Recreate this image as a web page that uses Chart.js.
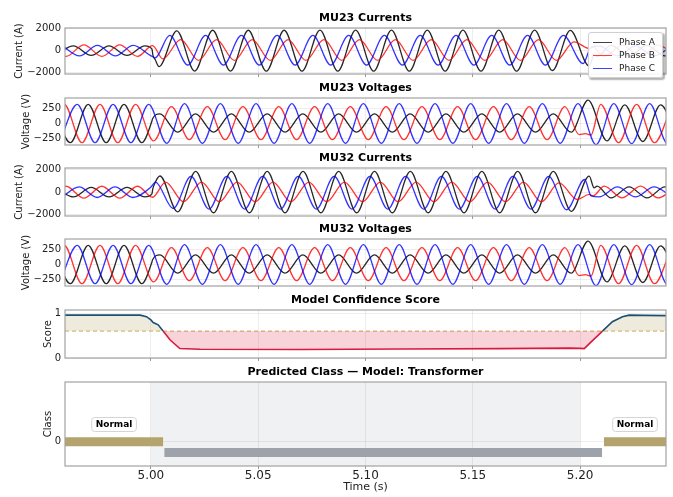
<!DOCTYPE html>
<html>
<head>
<meta charset="utf-8">
<script src="https://cdn.jsdelivr.net/npm/chart.js@4.4.1/dist/chart.umd.min.js"></script>
<style>
  body { margin: 0; background: #fff; width: 673px; height: 497px; position: relative; overflow: hidden; font-family: "DejaVu Sans", sans-serif; }
  canvas { position: absolute; left: 0; display: block; }
  #legend { position: absolute; left: 588px; top: 32px; width: 75px; height: 46px; box-sizing: border-box;
    border: 1px solid #d0d0d0; border-radius: 3px; background: rgba(255,255,255,0.9);
    box-shadow: 1.5px 1.5px 1.5px rgba(0,0,0,0.3); font-size: 9px; color: #222; padding-top: 3px; }
  #legend .row { height: 13px; line-height: 13px; white-space: nowrap; }
  #legend .sw { display: inline-block; width: 19px; height: 1.5px; margin: 0 7px 0 4px; vertical-align: middle; }
</style>
</head>
<body>
<canvas id="c1" width="673" height="74" style="top:11px"></canvas>
<canvas id="c2" width="673" height="75" style="top:81px"></canvas>
<canvas id="c3" width="673" height="76" style="top:151px"></canvas>
<canvas id="c4" width="673" height="75" style="top:222px"></canvas>
<canvas id="c5" width="673" height="76" style="top:293px"></canvas>
<canvas id="c6" width="673" height="132" style="top:365px"></canvas>
<div id="legend">
  <div class="row"><span class="sw" style="background:rgba(0,0,0,0.75)"></span>Phase A</div>
  <div class="row"><span class="sw" style="background:rgba(255,0,0,0.75)"></span>Phase B</div>
  <div class="row"><span class="sw" style="background:rgba(0,0,255,0.75)"></span>Phase C</div>
</div>
<script>
// Time window and shared ticks
const T_MIN = 4.96, T_MAX = 5.24;
const xTicks = [5.00, 5.05, 5.10, 5.15, 5.20];
const currentTicks = [-2000, 0, 2000];
const voltageTicks = [-250, 0, 250];
const scoreTicks = [0, 1];
const classTicks = [0];

// Waveforms: [time (s), value] at each peak / trough
const curA23 = [[4.9555,-430],[4.9639,430],[4.9722,-430],[4.9805,430],[4.9889,-430],[4.9972,430],[5.0005,150],[5.0010,-450],[5.0020,-800],[5.0038,-1450],
  [5.0121,1800],[5.0204,-1850],[5.0288,1850],[5.0371,-1850],[5.0454,1850],[5.0538,-1860],[5.0621,1850],[5.0704,-1860],[5.0788,1860],[5.0871,-1860],[5.0954,1860],
  [5.1038,-1860],[5.1121,1860],[5.1204,-1860],[5.1288,1860],[5.1371,-1860],[5.1454,1860],[5.1538,-1860],[5.1621,1860],[5.1704,-1860],[5.1788,1860],[5.1871,-1800],[5.1954,1840],
  [5.2042,-1400],[5.2065,-400],[5.2079,-540],[5.2144,480],[5.2228,-480],[5.2312,480],[5.2395,-480],[5.2478,480]];
const curB23 = [[4.9522,520],[4.9605,-520],[4.9688,520],[4.9772,-520],[4.9855,520],[4.9938,-520],[5.0008,450],
  [5.0056,-750],[5.0139,1000],[5.0222,-880],[5.0306,1000],[5.0389,-880],[5.0472,1000],[5.0556,-880],[5.0639,1000],[5.0722,-880],[5.0806,1000],[5.0889,-880],[5.0972,1000],
  [5.1056,-880],[5.1139,1000],[5.1222,-880],[5.1306,1000],[5.1389,-880],[5.1472,1000],[5.1556,-880],[5.1639,1000],[5.1722,-880],[5.1806,1000],[5.1889,-880],[5.1972,800],
  [5.2042,200],[5.2060,330],[5.2112,-540],[5.2195,510],[5.2282,-540],[5.2363,510],[5.2449,-540]];
const curC23 = [[4.9585,470],[4.9668,-470],[4.9751,470],[4.9835,-470],[4.9918,470],[5.0001,-470],[5.0020,-650],
  [5.0088,1380],[5.0172,-1300],[5.0255,1380],[5.0338,-1300],[5.0422,1380],[5.0505,-1300],[5.0588,1380],[5.0672,-1300],[5.0755,1380],[5.0838,-1300],[5.0922,1380],
  [5.1005,-1300],[5.1088,1380],[5.1172,-1300],[5.1255,1380],[5.1338,-1300],[5.1422,1380],[5.1505,-1300],[5.1588,1380],[5.1672,-1300],[5.1755,1380],[5.1838,-1300],[5.1922,1380],[5.2014,-1170],
  [5.2051,330],[5.2088,420],[5.2174,-470],[5.2258,420],[5.2344,-470],[5.2428,420]];

const curA32 = [[4.9555,420],[4.9639,-420],[4.9722,420],[4.9805,-420],[4.9889,420],[4.9972,-420],[5.0005,-150],[5.0009,300],[5.0013,550],
  [5.0042,1440],[5.0125,-1750],[5.0209,1850],[5.0292,-1830],[5.0375,1850],[5.0459,-1830],[5.0542,1850],[5.0625,-1830],[5.0709,1850],[5.0792,-1830],[5.0875,1850],
  [5.0959,-1830],[5.1042,1850],[5.1125,-1830],[5.1209,1850],[5.1292,-1830],[5.1375,1850],[5.1459,-1830],[5.1542,1850],[5.1625,-1830],[5.1709,1850],[5.1792,-1830],[5.1875,1850],[5.1959,-1700],[5.2042,1435],
  [5.2065,385],[5.2079,540],[5.2144,-510],[5.2228,480],[5.2312,-510],[5.2395,480],[5.2478,-510]];
const curB32 = [[4.9522,-530],[4.9605,530],[4.9688,-530],[4.9772,530],[4.9855,-530],[4.9938,530],[5.0008,-450],
  [5.0069,900],[5.0152,-850],[5.0236,900],[5.0319,-850],[5.0402,900],[5.0486,-850],[5.0569,900],[5.0652,-850],[5.0736,900],[5.0819,-850],[5.0902,900],[5.0986,-850],
  [5.1069,900],[5.1152,-850],[5.1236,900],[5.1319,-850],[5.1402,900],[5.1486,-850],[5.1569,900],[5.1652,-850],[5.1736,900],[5.1819,-850],[5.1902,830],[5.1986,-650],
  [5.2042,-200],[5.2060,-330],[5.2112,540],[5.2195,-510],[5.2282,540],[5.2363,-510],[5.2449,540]];
const curC32 = [[4.9583,-470],[4.9666,470],[4.9750,-470],[4.9833,470],[4.9916,-470],[5.0001,470],[5.0021,900],
  [5.0104,-1450],[5.0187,1400],[5.0271,-1500],[5.0354,1400],[5.0437,-1500],[5.0521,1400],[5.0604,-1500],[5.0687,1400],[5.0771,-1500],[5.0854,1400],[5.0937,-1500],
  [5.1021,1400],[5.1104,-1500],[5.1187,1400],[5.1271,-1500],[5.1354,1400],[5.1437,-1500],[5.1521,1400],[5.1604,-1500],[5.1687,1400],[5.1771,-1500],[5.1854,1400],[5.1937,-1560],[5.2021,1130],
  [5.2051,-330],[5.2088,-420],[5.2174,470],[5.2258,-420],[5.2344,470],[5.2428,-420]];

// Voltages look the same at both relays
const voltA = [[4.9542,320],[4.9625,-320],[4.9708,320],[4.9792,-320],[4.9875,320],[4.9958,-320],[5.0004,30],[5.0008,80],
  [5.0042,160],[5.0125,-145],[5.0208,160],[5.0292,-145],[5.0375,160],[5.0458,-145],[5.0542,160],[5.0625,-145],[5.0708,160],[5.0792,-145],[5.0875,160],[5.0958,-145],
  [5.1042,160],[5.1125,-145],[5.1208,160],[5.1292,-145],[5.1375,160],[5.1458,-145],[5.1542,160],[5.1625,-145],[5.1708,160],[5.1792,-145],[5.1875,160],[5.1958,-145],
  [5.2037,390],[5.2125,-290],[5.2208,310],[5.2292,-300],[5.2375,310],[5.2458,-300]];
const voltB = [[4.9513,-320],[4.9596,320],[4.9679,-320],[4.9763,320],[4.9846,-320],[4.9929,320],[5.0013,-290],
  [5.0096,280],[5.0179,-270],[5.0263,280],[5.0346,-270],[5.0429,280],[5.0513,-270],[5.0596,280],[5.0679,-270],[5.0763,280],[5.0846,-270],[5.0929,280],[5.1013,-270],
  [5.1096,280],[5.1179,-270],[5.1263,280],[5.1346,-270],[5.1429,280],[5.1513,-270],[5.1596,280],[5.1679,-270],[5.1763,280],[5.1846,-270],[5.1929,280],
  [5.1995,-185],[5.2025,-170],[5.2050,-195],[5.2096,320],[5.2179,-320],[5.2263,320],[5.2346,-320],[5.2429,320]];
const voltC = [[4.9574,-320],[4.9657,320],[4.9740,-320],[4.9824,320],[4.9907,-320],[4.9990,320],
  [5.0074,-330],[5.0157,330],[5.0240,-330],[5.0324,330],[5.0407,-330],[5.0490,330],[5.0574,-330],[5.0657,330],[5.0740,-330],[5.0824,330],[5.0907,-330],[5.0990,330],
  [5.1074,-330],[5.1157,330],[5.1240,-330],[5.1324,330],[5.1407,-330],[5.1490,330],[5.1574,-330],[5.1657,330],[5.1740,-330],[5.1824,330],[5.1907,-330],[5.1990,330],
  [5.2074,-350],[5.2157,330],[5.2240,-335],[5.2324,330],[5.2407,-335],[5.2490,330]];

// Model confidence
const scoreT = [4.96, 4.9950, 4.9980, 5.0000, 5.0011, 5.0034, 5.0057, 5.0090, 5.0135, 5.0230, 5.0700, 5.1160, 5.1620, 5.1950, 5.2000, 5.2019, 5.2060, 5.2104, 5.2150, 5.2197, 5.2228, 5.2300, 5.24];
const scoreV = [0.955, 0.955, 0.92, 0.85, 0.79, 0.74, 0.60, 0.40, 0.21, 0.195, 0.19, 0.20, 0.21, 0.22, 0.215, 0.21, 0.40, 0.60, 0.81, 0.92, 0.955, 0.95, 0.945];
const threshold = 0.6;

// Predicted class spans
const classStart = [4.96, 5.0063, 5.2111];
const classEnd = [5.0057, 5.2102, 5.24];
const classLevel = [0, -0.22, 0];
const classColor = ['#b4a36c', '#9ea3ab', '#b4a36c'];
const classLabel = ['Normal', '', 'Normal'];
const labelLevel = 0.36;
const faultStart = 5.00, faultEnd = 5.20;

const FONT = '"DejaVu Sans", sans-serif';
const GRID = 'rgba(0,0,0,0.07)';
const PHASE = ['rgba(0,0,0,0.85)', 'rgba(255,0,0,0.8)', 'rgba(0,0,255,0.8)'];

const fmtNum = (v) => (v < 0 ? '\u2212' : '') + Math.abs(v);

const framePlugin = {
  id: 'frame',
  afterDraw(chart) {
    const a = chart.chartArea, ctx = chart.ctx;
    ctx.save();
    ctx.strokeStyle = '#a2a2a2';
    ctx.lineWidth = 1.2;
    ctx.strokeRect(a.left, a.top, a.right - a.left, a.bottom - a.top);
    ctx.restore();
  },
};

function phaseSets(a, b, c) {
  return [a, b, c].map((d, i) => ({
    data: d, borderColor: PHASE[i], borderWidth: 1.3, order: 3 - i,
    cubicInterpolationMode: 'monotone', pointRadius: 0,
  }));
}

function makeChart(id, o) {
  return new Chart(document.getElementById(id), {
    type: 'line',
    data: { datasets: o.datasets },
    plugins: [framePlugin].concat(o.plugins || []),
    options: {
      responsive: false, animation: false, events: [],
      layout: { padding: { left: 0, right: 7, top: 0, bottom: 0 } },
      elements: { point: { radius: 0 } },
      plugins: {
        legend: { display: false }, tooltip: { enabled: false },
        title: { display: true, fullSize: false, text: o.title, color: '#000', font: { family: FONT, size: 11, weight: 'bold' }, padding: { top: 0.8, bottom: 3 } },
      },
      scales: {
        x: {
          type: 'linear', min: T_MIN, max: T_MAX,
          afterBuildTicks: (s) => { s.ticks = xTicks.map((v) => ({ value: v })); },
          afterFit: (s) => { s.height = o.showX ? 31 : 11; },
          grid: { color: GRID, drawTicks: true, tickLength: 3, tickColor: '#999' },
          border: { display: false },
          ticks: { display: !!o.showX, padding: 0, color: '#222', font: { family: FONT, size: 12 }, callback: (v) => v.toFixed(2) },
          title: { display: !!o.showX, text: 'Time (s)', color: '#222', font: { family: FONT, size: 11 }, padding: { top: 0, bottom: 3.4 } },
        },
        y: {
          min: o.yMin, max: o.yMax,
          afterBuildTicks: (s) => { s.ticks = o.yTicks.map((v) => ({ value: v })); },
          afterFit: (s) => { s.width = 65; },
          grid: { color: GRID, drawTicks: false },
          border: { display: false },
          ticks: { padding: 4, color: '#222', font: { family: FONT, size: 10 }, callback: fmtNum },
          title: { display: true, text: o.yTitle, color: '#222', font: { family: FONT, size: 10 }, padding: { top: o.yPad, bottom: 0 } },
        },
      },
    },
  });
}

makeChart('c1', { title: 'MU23 Currents', yTitle: 'Current (A)', yPad: 13.5, yMin: -2117, yMax: 2054, yTicks: currentTicks, datasets: phaseSets(curA23, curB23, curC23) });
makeChart('c2', { title: 'MU23 Voltages', yTitle: 'Voltage (V)', yPad: 20, yMin: -358, yMax: 425, yTicks: voltageTicks, datasets: phaseSets(voltA, voltB, voltC) });
makeChart('c3', { title: 'MU32 Currents', yTitle: 'Current (A)', yPad: 13.5, yMin: -2117, yMax: 2152, yTicks: currentTicks, datasets: phaseSets(curA32, curB32, curC32) });
makeChart('c4', { title: 'MU32 Voltages', yTitle: 'Voltage (V)', yPad: 20, yMin: -358, yMax: 425, yTicks: voltageTicks, datasets: phaseSets(voltA, voltB, voltC) });

// Confidence score, coloured by side of the threshold
const BLUE_LINE = '#1b4f72', RED_LINE = '#d91a40';
makeChart('c5', {
  title: 'Model Confidence Score', yTitle: 'Score', yPad: 42.3, yMin: 0, yMax: 1.07, yTicks: scoreTicks,
  datasets: [
    { data: [[T_MIN, threshold], [T_MAX, threshold]], borderColor: '#c9a94e', borderWidth: 1, borderDash: [4, 3], order: 2 },
    {
      data: scoreT.map((t, i) => [t, scoreV[i]]), borderWidth: 1.6, order: 1, borderColor: BLUE_LINE,
      segment: { borderColor: (ctx) => ((ctx.p0.parsed.y + ctx.p1.parsed.y) / 2 < threshold ? RED_LINE : BLUE_LINE) },
      fill: { target: { value: threshold }, above: 'rgba(200,190,140,0.3)', below: 'rgba(220,40,70,0.2)' },
    },
  ],
});

// Predicted class bars
const shadePlugin = {
  id: 'shade',
  beforeDraw(chart) {
    const a = chart.chartArea, x = chart.scales.x, ctx = chart.ctx;
    ctx.save();
    ctx.fillStyle = '#f0f1f3';
    const x0 = x.getPixelForValue(faultStart), x1 = x.getPixelForValue(faultEnd);
    ctx.fillRect(x0, a.top, x1 - x0, a.bottom - a.top);
    ctx.restore();
  },
  afterDatasetsDraw(chart) {
    const x = chart.scales.x, y = chart.scales.y, ctx = chart.ctx;
    ctx.save();
    ctx.font = 'bold 9px ' + FONT;
    ctx.textAlign = 'center';
    ctx.textBaseline = 'middle';
    classLabel.forEach((txt, i) => {
      if (!txt) return;
      const cx = x.getPixelForValue((classStart[i] + classEnd[i]) / 2);
      const cy = y.getPixelForValue(labelLevel);
      const w = ctx.measureText(txt).width + 8, h = 14;
      ctx.beginPath();
      ctx.roundRect(cx - w / 2, cy - h / 2, w, h, 3);
      ctx.fillStyle = '#fff';
      ctx.fill();
      ctx.strokeStyle = '#d4d4d4';
      ctx.lineWidth = 1;
      ctx.stroke();
      ctx.fillStyle = '#000';
      ctx.fillText(txt, cx, cy + 0.5);
    });
    ctx.restore();
  },
};

makeChart('c6', {
  title: 'Predicted Class \u2014 Model: Transformer', yTitle: 'Class', yPad: 42.3, yMin: -0.5, yMax: 1.24, yTicks: classTicks, showX: true,
  plugins: [shadePlugin],
  datasets: classStart.map((s, i) => ({
    data: [[s, classLevel[i]], [classEnd[i], classLevel[i]]],
    borderColor: classColor[i], borderWidth: 9, borderCapStyle: 'butt',
  })),
});
</script>
</body>
</html>
